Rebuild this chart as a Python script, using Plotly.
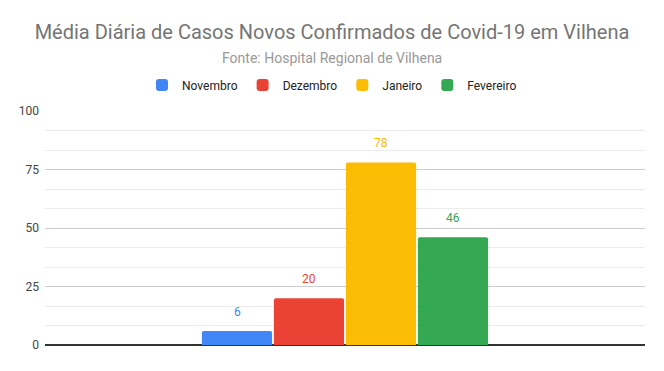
import plotly.graph_objects as go

categories = [0]
series_names = ["Novembro", "Dezembro", "Janeiro", "Fevereiro"]
series_values = [[6], [20], [78], [46]]
colors = ["#4285F4", "#EA4335", "#FBBC04", "#34A853"]
y_ticks = [0, 25, 50, 75, 100]

BARGAP = 0.52
GROUPGAP = 0.025
n = len(series_names)
slot = (1 - BARGAP) / n

W, H = 664, 371
L, R, T, B = 45, 19, 111, 26
PLOT_H = H - T - B
PLOT_W = W - L - R

fig = go.Figure()
annotations = []
for i, (name, vals, c) in enumerate(zip(series_names, series_values, colors)):
    fig.add_trace(go.Bar(
        x=categories, y=vals, name=name,
        marker=dict(color=c, line=dict(width=0), cornerradius=2),
        hoverinfo="name+y",
    ))
    for xv, v in zip(categories, vals):
        annotations.append(dict(
            x=xv - (1 - BARGAP) / 2 + slot * (i + 0.5), y=v, xref="x", yref="y",
            text=str(v), showarrow=False, yanchor="bottom", yshift=10,
            font=dict(color=c, size=12, family="Roboto, Arial"),
        ))

annotations.append(dict(
    text="Fonte: Hospital Regional de Vilhena", x=(W / 2 - L) / PLOT_W, xref="paper",
    y=(H - B - 58) / PLOT_H, yref="paper", yanchor="middle", showarrow=False,
    font=dict(size=14, color="#999999", family="Roboto, Arial"),
))

fig.update_layout(
    width=W, height=H,
    margin=dict(l=L, r=R, t=T, b=B, autoexpand=False),
    paper_bgcolor="white", plot_bgcolor="white",
    font=dict(family="Roboto, Arial", color="#222222"),
    barmode="group", bargap=BARGAP, bargroupgap=GROUPGAP,
    title=dict(
        text="Média Diária de Casos Novos Confirmados de Covid-19 em Vilhena",
        x=0.5, xref="container", xanchor="center", y=1 - 32 / H, yref="container", yanchor="middle",
        font=dict(size=20, color="#757575", family="Roboto, Arial"),
    ),
    legend=dict(orientation="h", x=0.5, xref="container", xanchor="center",
                y=1 - 85 / H, yanchor="middle",
                yref="container", font=dict(size=12, color="#222222"),
                itemwidth=30, traceorder="normal"),
    showlegend=True,
    annotations=annotations,
)
fig.update_xaxes(range=[-0.5, 0.5], showticklabels=False, showgrid=False, zeroline=False,
                 showline=False, automargin=False, fixedrange=True)
fig.update_yaxes(
    range=[0, 100], tickvals=y_ticks, ticktext=[str(t) for t in y_ticks],
    showgrid=True, gridcolor="#cccccc", gridwidth=1,
    minor=dict(dtick=25/3, showgrid=True, gridcolor="#ebebeb", gridwidth=1),
    zeroline=True, zerolinecolor="#333333", zerolinewidth=1.5,
    tickfont=dict(size=12, color="#444444"), ticks="", ticklabelstandoff=5,
    automargin=False,
)
fig.write_html("out.html", config={"displayModeBar": False},
               post_script="document.body.style.margin='0';")
